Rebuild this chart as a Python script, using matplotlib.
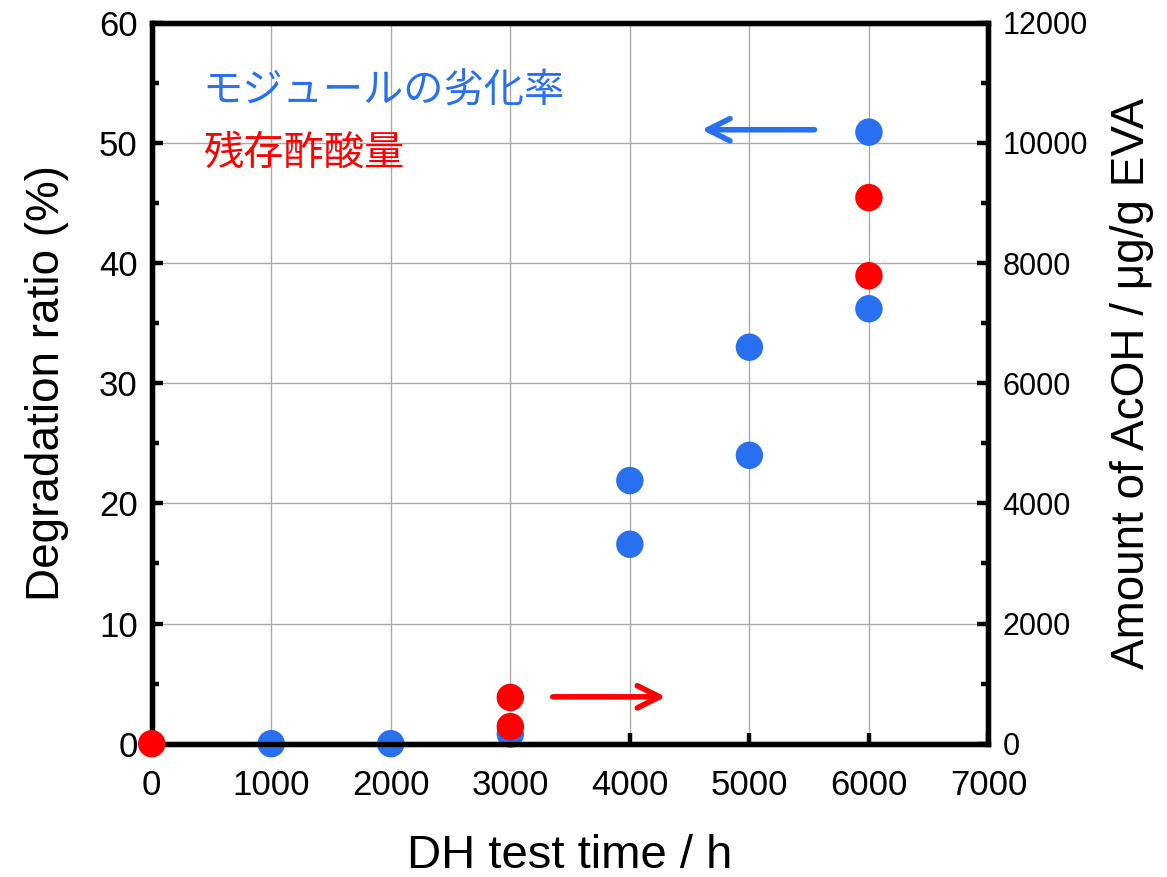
import matplotlib
matplotlib.use("Agg")
import matplotlib.pyplot as plt
from matplotlib.ticker import MultipleLocator

plt.rcParams['font.family'] = ['Liberation Sans', 'DejaVu Sans']

# DH test time (h) vs. module degradation ratio (%)
deg_time = [1000, 2000, 3000, 4000, 4000, 5000, 5000, 6000, 6000]
deg_ratio = [0, 0, 0.8, 21.9, 16.6, 33.0, 24.0, 50.9, 36.2]

# DH test time (h) vs. residual acetic acid (ug/g EVA)
acoh_time = [0, 3000, 3000, 6000, 6000]
acoh_amount = [0, 770, 285, 9090, 7790]

BLUE = '#2870f0'
RED = '#ff0000'

fig = plt.figure(figsize=(11.67, 8.77), dpi=100)
ax = fig.add_axes([0.130, 0.152, 0.717, 0.822])
ax2 = ax.twinx()

ax.scatter(deg_time, deg_ratio, s=390, color=BLUE, edgecolors='none',
           zorder=5, clip_on=False)
ax2.scatter(acoh_time, acoh_amount, s=390, color=RED, edgecolors='none',
            zorder=5, clip_on=False)

ax.set_xlim(0, 7000)
ax.set_ylim(0, 60)
ax2.set_ylim(0, 12000)
ax.xaxis.set_major_locator(MultipleLocator(1000))
ax.yaxis.set_major_locator(MultipleLocator(10))
ax.yaxis.set_minor_locator(MultipleLocator(5))
ax2.yaxis.set_major_locator(MultipleLocator(2000))
ax2.yaxis.set_minor_locator(MultipleLocator(1000))

ax.grid(True, color='#aaaaaa', linewidth=1.0, zorder=1)

for a in (ax, ax2):
    for sp in a.spines.values():
        sp.set_linewidth(3.8)

ax.tick_params(axis='x', which='major', direction='in', length=8, width=3.2,
               labelsize=25, pad=18)
ax.tick_params(axis='y', which='major', direction='in', length=8, width=3.2,
               labelsize=25, pad=10)
ax.tick_params(axis='y', which='minor', direction='in', length=5, width=3.2)
ax2.tick_params(axis='y', which='major', direction='in', length=8, width=3.2,
                labelsize=22, pad=10)
ax2.tick_params(axis='y', which='minor', direction='in', length=5, width=3.2)

ax.set_xlabel('DH test time / h', fontsize=34, labelpad=23)
ax.set_ylabel('Degradation ratio (%)', fontsize=33, labelpad=22)
ax2.set_ylabel('Amount of AcOH / μg/g EVA', fontsize=33, labelpad=16)

cjk = ['Noto Sans CJK JP', 'Liberation Sans']
ax.text(0.061, 0.905, 'モジュールの劣化率', transform=ax.transAxes, color=BLUE,
        fontsize=29, family=cjk, va='center', ha='left')
ax.text(0.061, 0.819, '残存酢酸量', transform=ax.transAxes, color=RED,
        fontsize=29, family=cjk, va='center', ha='left')

# arrows pointing to each series' axis
ax.annotate('', xy=(4600, 51.1), xytext=(5545, 51.1),
            arrowprops=dict(arrowstyle='->', color=BLUE, lw=4,
                            mutation_scale=40, shrinkA=0, shrinkB=0))
ax.annotate('', xy=(4300, 3.9), xytext=(3355, 3.9),
            arrowprops=dict(arrowstyle='->', color=RED, lw=4,
                            mutation_scale=40, shrinkA=0, shrinkB=0))

fig.savefig('out.png', dpi=100)
